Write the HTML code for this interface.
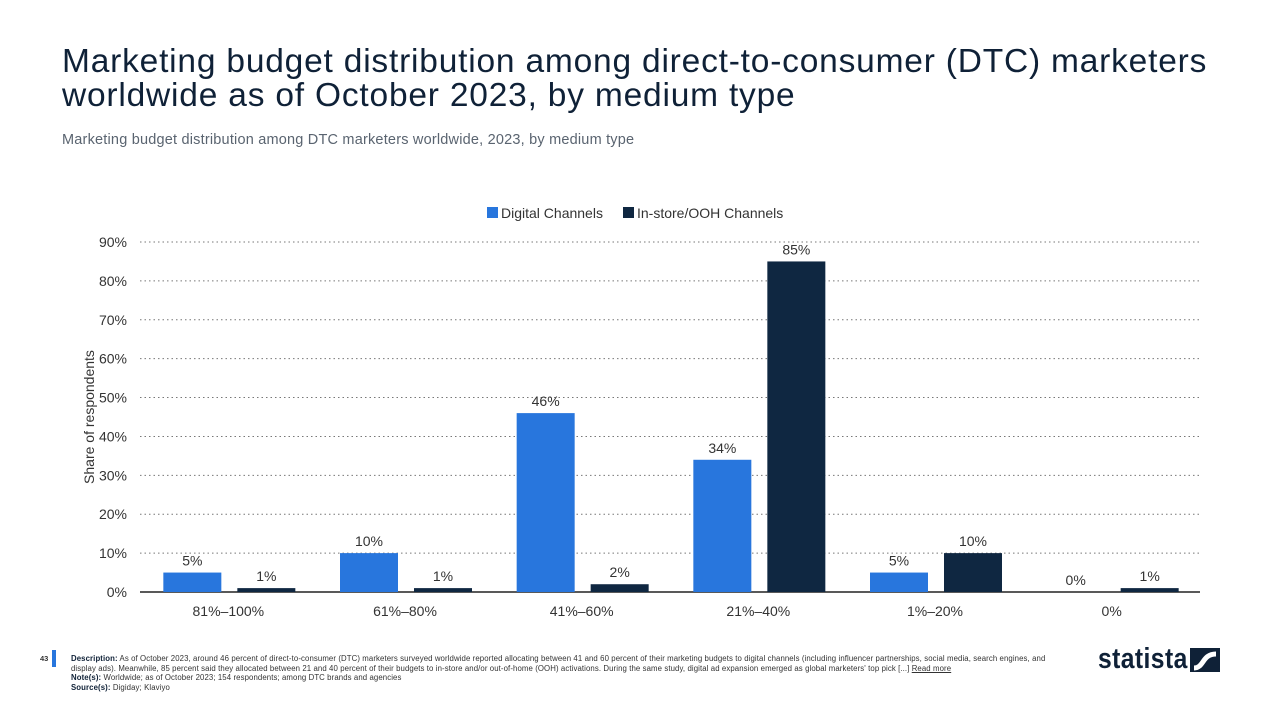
<!DOCTYPE html>
<html><head><meta charset="utf-8"><style>
body{margin:0;width:1280px;height:711px;background:#fff;font-family:"Liberation Sans",sans-serif;overflow:hidden;position:relative}
h1{position:absolute;left:62px;top:45px;margin:0;font-weight:normal;font-size:33.5px;line-height:34px;color:#0f2137;width:1190px;letter-spacing:0.8px}
.sub{position:absolute;left:62px;top:132px;font-size:14.5px;color:#5a6470;letter-spacing:0.2px}
.foot{position:absolute;left:71px;top:654px;font-size:7.8px;line-height:9.5px;color:#333;width:975px;letter-spacing:0.1px}
.foot b{color:#0f2137}
.pg{position:absolute;left:40px;top:654px;font-size:7.5px;font-weight:bold;color:#333}
.pgbar{position:absolute;left:52px;top:650px;width:4px;height:17px;background:#2876dd}
.logo{position:absolute;left:1098px;top:643px;font-size:29px;font-weight:bold;color:#0f2137;letter-spacing:0.5px;transform:scaleX(0.85);transform-origin:left}
</style></head><body>
<h1>Marketing budget distribution among direct-to-consumer (DTC) marketers worldwide as of October 2023, by medium type</h1>
<div class="sub">Marketing budget distribution among DTC marketers worldwide, 2023, by medium type</div>
<svg id="chart" width="1280" height="711" style="position:absolute;left:0;top:0"></svg>
<div class="pgbar"></div>
<div class="pg">43</div>
<div class="foot"><b>Description:</b> As of October 2023, around 46 percent of direct-to-consumer (DTC) marketers surveyed worldwide reported allocating between 41 and 60 percent of their marketing budgets to digital channels (including influencer partnerships, social media, search engines, and display ads). Meanwhile, 85 percent said they allocated between 21 and 40 percent of their budgets to in-store and/or out-of-home (OOH) activations. During the same study, digital ad expansion emerged as global marketers' top pick [...] <u>Read more</u><br><b>Note(s):</b> Worldwide; as of October 2023; 154 respondents; among DTC brands and agencies<br><b>Source(s):</b> Digiday; Klaviyo</div>
<div class="logo">statista</div>
<svg style="position:absolute;left:1190px;top:648px" width="30" height="24"><rect width="30" height="24" fill="#0f2137"/><path d="M4 20 C14 20 12 6 26 6" stroke="#fff" stroke-width="5" fill="none"/></svg>
<script>
const categories=["81%–100%","61%–80%","41%–60%","21%–40%","1%–20%","0%"];
const digital=[5,10,46,34,5,0];
const instore=[1,1,2,85,10,1];
const yTicks=[0,10,20,30,40,50,60,70,80,90];
const svg=document.getElementById('chart');const NS='http://www.w3.org/2000/svg';
const x0=140,x1=1200,yBase=592,yTop=242,yMax=90;
const y=v=>yBase-(v/yMax)*(yBase-yTop);
const gw=(x1-x0)/categories.length;
function mk(t,a,txt){const e=document.createElementNS(NS,t);for(const k in a)e.setAttribute(k,a[k]);if(txt!==undefined)e.textContent=txt;svg.appendChild(e);return e;}
yTicks.forEach(v=>{
 if(v>0){const l=mk('line',{x1:x0,x2:x1,y1:y(v),y2:y(v),stroke:'#777','stroke-dasharray':'1.5,3'});
 }
 const t=mk('text',{x:127,y:y(v)+5,'text-anchor':'end','font-size':14,fill:'#333','font-family':'Liberation Sans'},v+'%');
 
});
const ax=mk('line',{x1:x0,x2:x1,y1:yBase,y2:yBase,stroke:'#222','stroke-width':1.5});

const yt=mk('text',{transform:'translate(94,417) rotate(-90)','text-anchor':'middle','font-size':14,fill:'#333','font-family':'Liberation Sans'},'Share of respondents');

const bw=58;
categories.forEach((c,i)=>{
 const cx=x0+gw*(i+0.5);
 [[digital[i],'#2876dd',cx-65],[instore[i],'#0f2741',cx+9]].forEach(([v,col,bx],j)=>{
  const r=mk('rect',{x:bx,y:y(v),width:bw,height:yBase-y(v),fill:col});
  
  const t=mk('text',{x:bx+bw/2,y:y(v)-7,'text-anchor':'middle','font-size':14,fill:'#333','font-family':'Liberation Sans'},v+'%');
  
 });
 const l=mk('text',{x:cx,y:616,'text-anchor':'middle','font-size':14,fill:'#333','font-family':'Liberation Sans'},c);
 
});
[['#2876dd','Digital Channels',487],['#0f2741','In-store/OOH Channels',623]].forEach(([col,txt,lx])=>{
 const r=mk('rect',{x:lx,y:207,width:11,height:11,fill:col});
 
 const t=mk('text',{x:lx+14,y:218,'font-size':14,fill:'#333','font-family':'Liberation Sans'},txt);
 
});
</script>
</body></html>
